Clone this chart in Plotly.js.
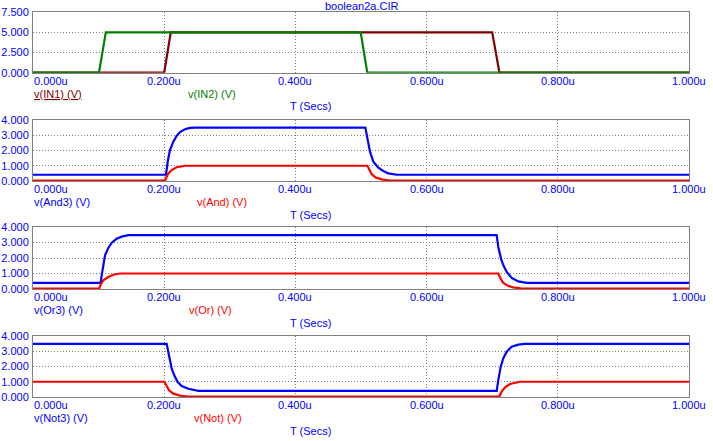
<!DOCTYPE html>
<html><head><meta charset="utf-8">
<script src="https://cdn.plot.ly/plotly-3.0.1.min.js"></script>
<style>html,body{margin:0;padding:0;background:#fff}#chart{width:713px;height:441px}</style>
</head><body><div id="chart"></div>
<script>
// ---- data (time in microseconds, volts) ----
const chartTitle = 'boolean2a.CIR';
const xTickVals = [0, 0.2, 0.4, 0.6, 0.8, 1.0];
const xTickText = ['0.000u', '0.200u', '0.400u', '0.600u', '0.800u', '1.000u'];
const xAxisTitle = 'T (Secs)';
const yTicks1 = [0, 2.5, 5, 7.5];
const yTicks234 = [0, 1, 2, 3, 4];

const tIN1 = [0, 0.200, 0.210, 0.700, 0.711, 1.0];
const vIN1 = [0, 0, 5, 5, 0, 0];
const tIN2 = [0, 0.1006, 0.111, 0.4995, 0.5096, 1.0];
const vIN2 = [0, 0, 5, 5, 0, 0];

const tAnd3 = [0, 0.2027, 0.2058, 0.2088, 0.2139, 0.2190, 0.2241, 0.2317, 0.2393, 0.2470, 0.5066, 0.5087, 0.5112, 0.5137, 0.5188, 0.5264, 0.5340, 0.5416, 0.5544, 1.0];
const vAnd3 = [0.41, 0.41, 1.38, 2.03, 2.58, 2.95, 3.21, 3.39, 3.48, 3.50, 3.50, 3.00, 2.47, 1.92, 1.27, 0.87, 0.66, 0.50, 0.41, 0.41];
const tAnd = [0, 0.2012, 0.2063, 0.2114, 0.2190, 0.2266, 0.2317, 0.5097, 0.5127, 0.5163, 0.5229, 0.5315, 0.5442, 1.0];
const vAnd = [0.03, 0.03, 0.50, 0.72, 0.90, 0.98, 1.00, 1.00, 0.72, 0.44, 0.22, 0.11, 0.03, 0.03];

const tOr3 = [0, 0.1031, 0.1047, 0.1072, 0.1098, 0.1148, 0.1200, 0.1276, 0.1352, 0.1453, 0.7068, 0.7093, 0.7108, 0.7134, 0.7170, 0.7221, 0.7297, 0.7398, 0.7526, 1.0];
const vOr3 = [0.40, 0.40, 0.88, 1.63, 2.17, 2.65, 2.99, 3.25, 3.38, 3.47, 3.47, 2.71, 2.39, 1.96, 1.53, 1.10, 0.71, 0.49, 0.40, 0.40];
const tOr = [0, 0.1011, 0.1031, 0.1072, 0.1148, 0.1224, 0.1326, 0.7093, 0.7129, 0.7170, 0.7246, 0.7322, 0.7450, 1.0];
const vOr = [0.03, 0.03, 0.28, 0.56, 0.77, 0.92, 1.00, 1.00, 0.67, 0.39, 0.19, 0.11, 0.03, 0.03];

const tNot3 = [0, 0.2038, 0.2063, 0.2088, 0.2114, 0.2154, 0.2205, 0.2266, 0.2368, 0.2520, 0.7068, 0.7093, 0.7130, 0.7170, 0.7221, 0.7297, 0.7398, 0.7500, 1.0];
const vNot3 = [3.48, 3.48, 2.95, 2.30, 1.86, 1.42, 0.98, 0.72, 0.54, 0.40, 0.40, 1.11, 1.99, 2.54, 2.97, 3.30, 3.43, 3.48, 3.48];
const tNot = [0, 0.2002, 0.2038, 0.2073, 0.2139, 0.2241, 0.2343, 0.7108, 0.7144, 0.7195, 0.7271, 0.7348, 0.7424, 1.0];
const vNot = [1.00, 1.00, 0.72, 0.44, 0.22, 0.09, 0.03, 0.03, 0.35, 0.63, 0.85, 0.94, 1.00, 1.00];

const names = [['v(IN1) (V)', 'v(IN2) (V)'], ['v(And3) (V)', 'v(And) (V)'], ['v(Or3) (V)', 'v(Or) (V)'], ['v(Not3) (V)', 'v(Not) (V)']];

// ---- styling / layout ----
const W = 713, H = 441, L = 33, R = 689;
const BLUE = '#0000ff', RED = '#ff0000', DRED = '#800000', GREEN = '#008000', GRAY = '#808080';
const FONT = 'Arial, "Liberation Sans", sans-serif';
const px = x => (x - L) / (R - L);
const py = y => 1 - y / H;
const panels = [
  {top: 12.3, bot: 72.7, range: [0, 7.5], ticks: yTicks1, tr: [[tIN1, vIN1, DRED], [tIN2, vIN2, GREEN]], lx2: 186.7, under: true},
  {top: 120, bot: 181, range: [0, 4], ticks: yTicks234, tr: [[tAnd3, vAnd3, BLUE], [tAnd, vAnd, RED]], lx2: 196},
  {top: 227, bot: 289, range: [0, 4], ticks: yTicks234, tr: [[tOr3, vOr3, BLUE], [tOr, vOr, RED]], lx2: 188.3},
  {top: 336, bot: 397, range: [0, 4], ticks: yTicks234, tr: [[tNot3, vNot3, BLUE], [tNot, vNot, RED]], lx2: 193.3}
];

const data = [];
const layout = {
  width: W, height: H,
  margin: {l: L, r: W - R, t: 0, b: 0},
  paper_bgcolor: '#fff', plot_bgcolor: '#fff',
  showlegend: false,
  font: {family: FONT, size: 11, color: BLUE},
  annotations: []
};
const ann = (o) => layout.annotations.push(Object.assign({showarrow: false, font: {family: FONT, size: 11, color: BLUE}, borderpad: 0}, o));

ann({text: chartTitle, xref: 'paper', yref: 'paper', x: 0.5, y: py(6.5), xanchor: 'center', yanchor: 'middle'});

panels.forEach((p, i) => {
  const n = i + 1;
  const xa = 'xaxis' + (n === 1 ? '' : n), ya = 'yaxis' + (n === 1 ? '' : n);
  const xr = 'x' + (n === 1 ? '' : n), yr = 'y' + (n === 1 ? '' : n);
  layout[xa] = {
    domain: [0, 1], range: [0, 1], anchor: yr, tickmode: 'array', tickvals: xTickVals,
    showticklabels: false, ticks: '', showgrid: true, gridcolor: GRAY, griddash: '1px,2px', gridwidth: 1,
    showline: true, linecolor: GRAY, linewidth: 1, mirror: true, zeroline: false, fixedrange: true
  };
  layout[ya] = {
    domain: [py(p.bot), py(p.top)], range: p.range, anchor: xr, tickmode: 'array', tickvals: p.ticks,
    tickformat: '.3f', ticks: 'outside', ticklen: 1, tickcolor: 'rgba(0,0,0,0)',
    tickfont: {family: FONT, size: 11, color: BLUE},
    showgrid: true, gridcolor: GRAY, griddash: '1px,2px', gridwidth: 1,
    showline: true, linecolor: GRAY, linewidth: 1, mirror: true, zeroline: false, fixedrange: true
  };
  p.tr.forEach((t, k) => {
    data.push({type: 'scatter', mode: 'lines', x: t[0], y: t[1], xaxis: xr, yaxis: yr,
      name: names[i][k], line: {color: t[2], width: 2.2}, hoverinfo: 'skip'});
  });
  // x tick labels
  xTickVals.forEach((v, k) => {
    ann({text: xTickText[k], xref: xr, yref: 'paper', x: v, y: py(p.bot + 7.8),
      xanchor: k === 0 ? 'left' : 'center', yanchor: 'middle'});
  });
  // trace labels
  const c1 = p.tr[0][2], c2 = p.tr[1][2];
  ann({text: p.under ? '<u>' + names[i][0] + '</u>' : names[i][0], xref: 'paper', yref: 'paper',
    x: 0, y: py(p.bot + 21), xanchor: 'left', yanchor: 'middle', font: {family: FONT, size: 11, color: c1}});
  ann({text: names[i][1], xref: 'paper', yref: 'paper',
    x: px(p.lx2), y: py(p.bot + 21), xanchor: 'left', yanchor: 'middle', font: {family: FONT, size: 11, color: c2}});
  ann({text: xAxisTitle, xref: 'paper', yref: 'paper', x: px(310.5), y: py(p.bot + 33.5),
    xanchor: 'center', yanchor: 'middle'});
});

Plotly.newPlot('chart', data, layout, {staticPlot: true, displayModeBar: false});
</script></body></html>
